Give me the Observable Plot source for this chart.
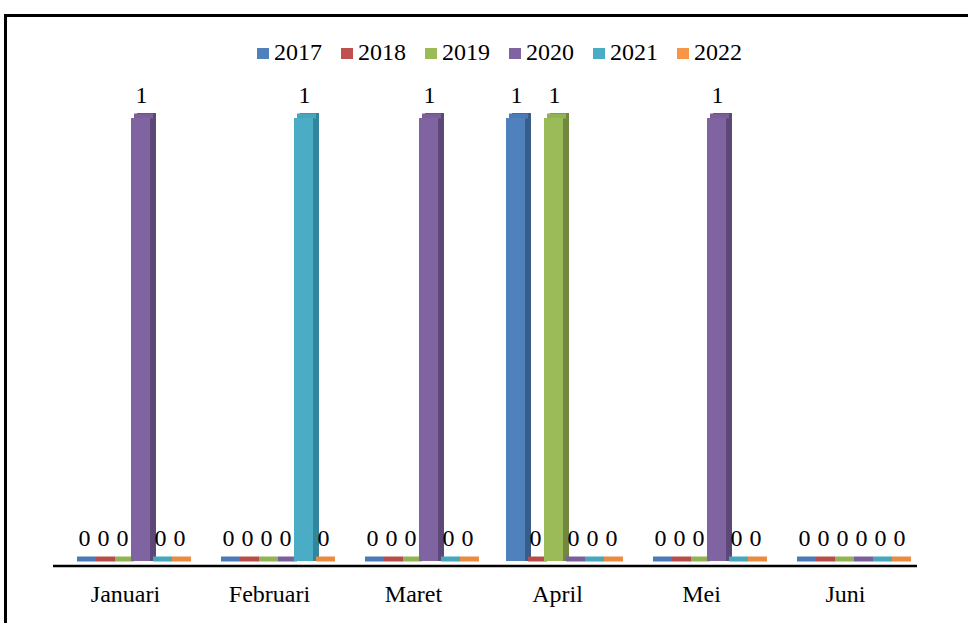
<!DOCTYPE html>
<html>
<head>
<meta charset="utf-8">
<script src="https://cdn.jsdelivr.net/npm/d3@7"></script>
<script src="https://cdn.jsdelivr.net/npm/@observablehq/plot@0.6"></script>
<style>
  html, body { margin: 0; padding: 0; background: #fff; }
  body { width: 968px; height: 623px; position: relative; overflow: hidden; font-family: "Liberation Serif", "Times New Roman", serif; }
  #frame { position: absolute; left: 4px; top: 14px; width: 1100px; height: 800px; border: 3.5px solid #000; box-sizing: border-box; }
  #legend { position: absolute; left: 257px; top: 37px; height: 30px; display: flex; align-items: center; font-family: "Liberation Serif", "Times New Roman", serif; font-size: 24px; line-height: 30px; color: #000; }
  #legend .item { display: flex; align-items: center; margin-right: 19px; }
  #legend .sw { width: 12px; height: 11px; margin-right: 5px; margin-top: 3px; }
  #chart { position: absolute; left: 0; top: 0; }
</style>
</head>
<body>
<div id="frame"></div>
<div id="chart"></div>
<div id="legend"></div>
<script>
// Months on the category axis and one series per year
const months = ["Januari", "Februari", "Maret", "April", "Mei", "Juni"];
const years = ["2017", "2018", "2019", "2020", "2021", "2022"];

const v2017 = [0, 0, 0, 1, 0, 0];
const v2018 = [0, 0, 0, 0, 0, 0];
const v2019 = [0, 0, 0, 1, 0, 0];
const v2020 = [1, 0, 1, 0, 1, 0];
const v2021 = [0, 1, 0, 0, 0, 0];
const v2022 = [0, 0, 0, 0, 0, 0];

// Face colours: front, side (shaded), top
const frontColors = ["#4F81BD", "#C0504D", "#9BBB59", "#8064A2", "#4BACC6", "#F79646"];
const sideColors  = ["#385D8A", "#8C3836", "#71893F", "#5C4776", "#31859C", "#B66D31"];
const topColors   = ["#4A7BB6", "#B84C49", "#92B253", "#7A5F9B", "#47A5BE", "#E88C40"];

const series = [v2017, v2018, v2019, v2020, v2021, v2022];
const rows = [];
months.forEach((m, i) => {
  years.forEach((y, j) => {
    rows.push({ month: m, year: y, value: series[j][i] });
  });
});

const frontFill = d3.scaleOrdinal(years, frontColors);
const sideFill = d3.scaleOrdinal(years, sideColors);
const topFill = d3.scaleOrdinal(years, topColors);

const chart = Plot.plot({
  width: 968,
  height: 623,
  marginLeft: 53,
  marginRight: 51,
  marginTop: 118,
  marginBottom: 62,
  style: { fontFamily: "Liberation Serif, Times New Roman, serif", fontSize: "24px", color: "#000", background: "transparent" },
  fx: { domain: months, padding: 0, axis: "bottom", tickSize: 0, tickPadding: 23, label: null },
  x: { domain: years, range: [74, 188], padding: 0, axis: null },
  y: { domain: [0, 1], axis: null },
  marks: [
    // shaded side face, reaching down to the floor
    Plot.barY(rows, { fx: "month", x: "year", y: "value", fill: d => sideFill(d.year), dx: 6, dy: -5 }),
    Plot.barY(rows, { fx: "month", x: "year", y: "value", fill: d => sideFill(d.year), dx: 6, dy: 0 }),
    // top face / floor strip
    Plot.tickY(rows, { fx: "month", x: "year", y: "value", stroke: d => topFill(d.year), strokeWidth: 5, dx: 3, dy: -2.5 }),
    // front face
    Plot.barY(rows, { fx: "month", x: "year", y: "value", fill: d => frontFill(d.year) }),
    // baseline axis
    Plot.ruleY([0], { stroke: "#000", strokeWidth: 2.5, dy: 4.5 }),
    // value labels
    Plot.text(rows, { fx: "month", x: "year", y: "value", text: d => String(d.value), dy: -23, dx: 0.5, fill: "#000", fontSize: 24 })
  ]
});
document.getElementById("chart").appendChild(chart);

// Legend row
const legend = document.getElementById("legend");
years.forEach((y, j) => {
  const item = document.createElement("div");
  item.className = "item";
  const sw = document.createElement("span");
  sw.className = "sw";
  sw.style.background = frontColors[j];
  const label = document.createElement("span");
  label.textContent = y;
  item.appendChild(sw);
  item.appendChild(label);
  legend.appendChild(item);
});
</script>
</body>
</html>
